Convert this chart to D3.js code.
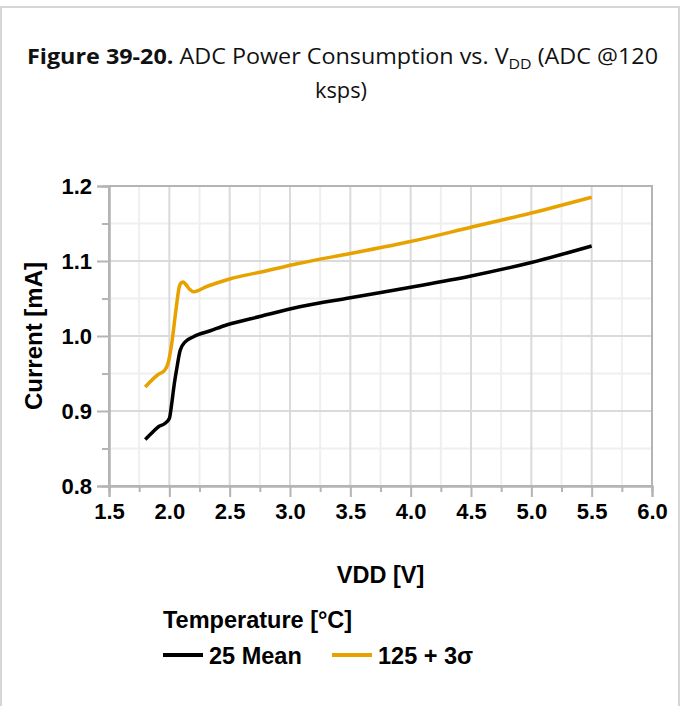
<!DOCTYPE html>
<html>
<head>
<meta charset="utf-8">
<script src="https://cdn.jsdelivr.net/npm/d3@7"></script>
<style>
  html, body { margin: 0; padding: 0; background: #fff; }
  svg { display: block; }
</style>
</head>
<body>
<svg id="chart" width="681" height="706"></svg>
<script>
// ---- Data ----
const vddMean = [1.80, 1.85, 1.91, 1.96, 2.00, 2.02, 2.04, 2.06, 2.09, 2.13, 2.20, 2.34, 2.48, 2.75, 3.08, 3.50, 4.00, 4.50, 5.00, 5.50];
const curMean = [0.862, 0.870, 0.879, 0.883, 0.890, 0.910, 0.935, 0.955, 0.981, 0.992, 0.999, 1.007, 1.015, 1.026, 1.039, 1.051, 1.065, 1.080, 1.098, 1.120];

const vddHot = [1.80, 1.91, 1.96, 1.99, 2.02, 2.055, 2.083, 2.10, 2.116, 2.14, 2.17, 2.20, 2.31, 2.42, 2.50, 2.75, 3.08, 3.50, 4.00, 4.50, 5.00, 5.50];
const curHot = [0.932, 0.949, 0.954, 0.964, 0.990, 1.035, 1.066, 1.071, 1.072, 1.068, 1.062, 1.059, 1.066, 1.072, 1.076, 1.085, 1.097, 1.110, 1.126, 1.145, 1.164, 1.185];

const seriesNames = ["25 Mean", "125 + 3σ"];
const seriesColors = ["#000000", "#e8a200"];

const xTicks = [1.5, 2.0, 2.5, 3.0, 3.5, 4.0, 4.5, 5.0, 5.5, 6.0];
const xMinorTicks = [1.75, 2.25, 2.75, 3.25, 3.75, 4.25, 4.75, 5.25, 5.75];
const yTicks = [0.8, 0.9, 1.0, 1.1, 1.2];
const yMinorTicks = [0.85, 0.95, 1.05, 1.15];

const xTitle = "VDD [V]";
const yTitle = "Current [mA]";
const legendTitle = "Temperature [°C]";

// ---- Layout ----
const svg = d3.select("#chart");
const plot = { left: 109, right: 652, top: 186, bottom: 486 };
const x = d3.scaleLinear().domain([1.5, 6.0]).range([plot.left, plot.right]);
const y = d3.scaleLinear().domain([0.8, 1.2]).range([plot.bottom, plot.top]);

const axisFont = "'Liberation Sans', Arial, sans-serif";
const titleFont = "'Open Sans', Lato, sans-serif";

// outer frame
svg.append("rect")
  .attr("x", 1).attr("y", 7).attr("width", 678).attr("height", 710)
  .attr("fill", "none").attr("stroke", "#d6d6d6").attr("stroke-width", 2);

// title
const title = svg.append("text")
  .attr("x", 27).attr("y", 64)
  .attr("font-family", titleFont)
  .attr("font-size", 22).attr("fill", "#111")
  .attr("textLength", 631).attr("lengthAdjust", "spacingAndGlyphs");
title.append("tspan").attr("font-weight", "bold").text("Figure 39-20.");
title.append("tspan").text(" ADC Power Consumption vs. V");
title.append("tspan").attr("font-size", 15).attr("dy", 5).text("DD");
title.append("tspan").attr("dy", -5).text(" (ADC @120");
svg.append("text")
  .attr("x", 341).attr("y", 98).attr("text-anchor", "middle")
  .attr("font-family", titleFont)
  .attr("font-size", 22).attr("fill", "#111")
  .attr("textLength", 52).attr("lengthAdjust", "spacingAndGlyphs")
  .text("ksps)");

// grid
const g = svg.append("g");
g.selectAll("line.xminor").data(xMinorTicks).enter().append("line")
  .attr("x1", d => x(d)).attr("x2", d => x(d))
  .attr("y1", plot.top).attr("y2", plot.bottom)
  .attr("stroke", "#efefef").attr("stroke-width", 2);
g.selectAll("line.yminor").data(yMinorTicks).enter().append("line")
  .attr("y1", d => y(d)).attr("y2", d => y(d))
  .attr("x1", plot.left).attr("x2", plot.right)
  .attr("stroke", "#efefef").attr("stroke-width", 2);
g.selectAll("line.xmajor").data(xTicks).enter().append("line")
  .attr("x1", d => x(d)).attr("x2", d => x(d))
  .attr("y1", plot.top).attr("y2", plot.bottom)
  .attr("stroke", "#dadada").attr("stroke-width", 2);
g.selectAll("line.ymajor").data(yTicks).enter().append("line")
  .attr("y1", d => y(d)).attr("y2", d => y(d))
  .attr("x1", plot.left).attr("x2", plot.right)
  .attr("stroke", "#dadada").attr("stroke-width", 2);

// plot border
svg.append("rect")
  .attr("x", plot.left).attr("y", plot.top)
  .attr("width", plot.right - plot.left).attr("height", plot.bottom - plot.top)
  .attr("fill", "none").attr("stroke", "#b4b4b4").attr("stroke-width", 2);

// axes
const xAxis = d3.axisBottom(x).tickValues(xTicks).tickFormat(d3.format(".1f")).tickSize(11).tickPadding(6);
const xAxisMinor = d3.axisBottom(x).tickValues(xMinorTicks).tickFormat("").tickSize(6);
const yAxis = d3.axisLeft(y).tickValues(yTicks).tickFormat(d3.format(".1f")).tickSize(12).tickPadding(5);
const yAxisMinor = d3.axisLeft(y).tickValues(yMinorTicks).tickFormat("").tickSize(7);

function styleAxis(sel) {
  sel.select(".domain").attr("stroke", "#b4b4b4").attr("stroke-width", 2);
  sel.selectAll(".tick line").attr("stroke", "#b4b4b4").attr("stroke-width", 2);
  sel.selectAll(".tick text")
    .attr("font-family", axisFont).attr("font-weight", "bold")
    .attr("font-size", 22).attr("fill", "#000");
}
svg.append("g").attr("transform", `translate(0,${plot.bottom})`).call(xAxisMinor).call(styleAxis);
svg.append("g").attr("transform", `translate(0,${plot.bottom})`).call(xAxis).call(styleAxis);
svg.append("g").attr("transform", `translate(${plot.left},0)`).call(yAxisMinor).call(styleAxis);
svg.append("g").attr("transform", `translate(${plot.left},0)`).call(yAxis).call(styleAxis);

// axis titles
svg.append("text")
  .attr("x", (plot.left + plot.right) / 2).attr("y", 583)
  .attr("text-anchor", "middle")
  .attr("font-family", axisFont).attr("font-weight", "bold").attr("font-size", 23.5)
  .text(xTitle);
svg.append("text")
  .attr("transform", `translate(42,${(plot.top + plot.bottom) / 2}) rotate(-90)`)
  .attr("text-anchor", "middle")
  .attr("font-family", axisFont).attr("font-weight", "bold").attr("font-size", 24)
  .text(yTitle);

// series
const series = [
  { name: seriesNames[0], color: seriesColors[0], pts: vddMean.map((v, i) => [v, curMean[i]]) },
  { name: seriesNames[1], color: seriesColors[1], pts: vddHot.map((v, i) => [v, curHot[i]]) }
];
const line = d3.line().x(d => x(d[0])).y(d => y(d[1])).curve(d3.curveMonotoneX);
svg.selectAll("path.series").data(series).enter().append("path")
  .attr("class", "series")
  .attr("d", d => line(d.pts))
  .attr("fill", "none")
  .attr("stroke", d => d.color)
  .attr("stroke-width", 3.5)
  .attr("stroke-linejoin", "round");

// legend
svg.append("text")
  .attr("x", 163).attr("y", 628)
  .attr("font-family", axisFont).attr("font-weight", "bold").attr("font-size", 23.5)
  .text(legendTitle);
const legX = [163, 332];
const leg = svg.selectAll("g.leg").data(series).enter().append("g")
  .attr("transform", (d, i) => `translate(${legX[i]},655)`);
leg.append("line").attr("x1", 0).attr("x2", 40).attr("y1", 0).attr("y2", 0)
  .attr("stroke", d => d.color).attr("stroke-width", 4);
leg.append("text").attr("x", 46).attr("y", 8.5)
  .attr("font-family", axisFont).attr("font-weight", "bold").attr("font-size", 23.5)
  .text(d => d.name);
</script>
</body>
</html>
